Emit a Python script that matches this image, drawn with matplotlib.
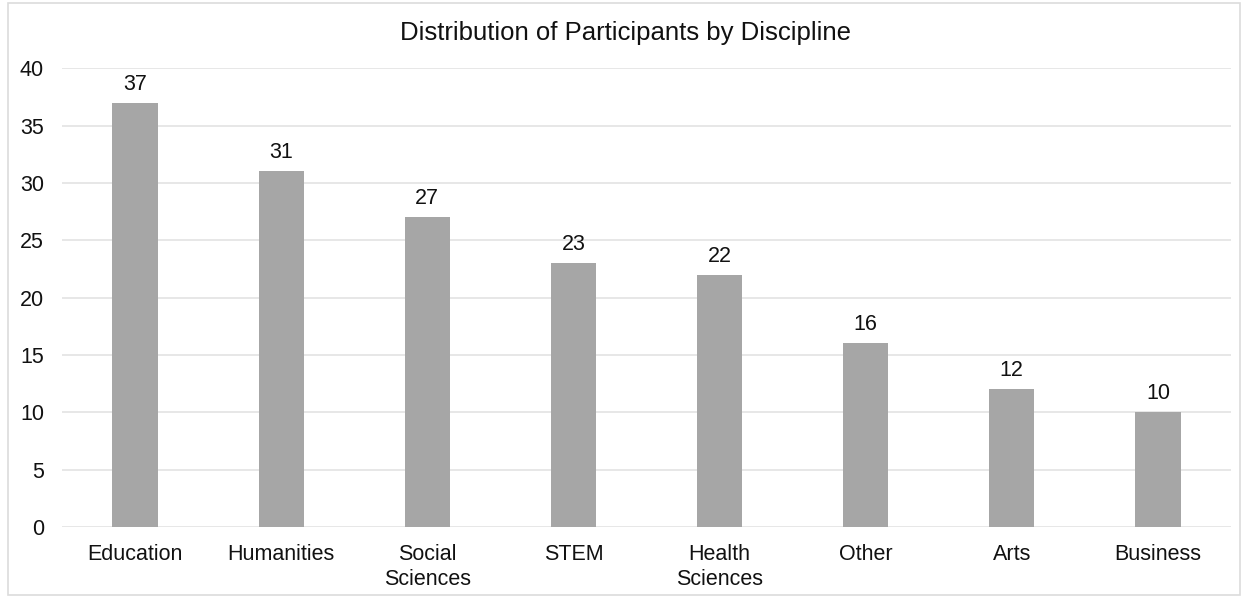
import matplotlib
matplotlib.use('Agg')
import matplotlib.pyplot as plt
import numpy as np

categories = ['Education', 'Humanities', 'Social\nSciences', 'STEM', 'Health\nSciences', 'Other', 'Arts', 'Business']
counts = [37, 31, 27, 23, 22, 16, 12, 10]
y_ticks = [0, 5, 10, 15, 20, 25, 30, 35, 40]

plt.rcParams['font.family'] = ['Liberation Sans', 'DejaVu Sans']

fig = plt.figure(figsize=(12.51, 5.98), dpi=100)
ax = fig.add_axes([0.0496, 0.1187, 0.9344, 0.7673])

x = np.arange(len(categories))
ax.bar(x, counts, width=0.31, color='#a6a6a6', zorder=3)
for xi, v in zip(x, counts):
    ax.text(xi, v + 0.7, str(v), ha='center', va='bottom', fontsize=15.5, color='#111111')

ax.set_xlim(-0.5, len(categories) - 0.5)
ax.set_ylim(0, 40)
ax.set_yticks(y_ticks)
ax.set_xticks(x)
ax.set_xticklabels(categories, fontsize=15.5, linespacing=1.3)
ax.tick_params(axis='y', labelsize=15.5, length=0, pad=13, labelcolor='#111111')
ax.tick_params(axis='x', length=0, pad=12, labelcolor='#111111')
ax.grid(axis='y', color='#e3e3e3', linewidth=1.2, zorder=0)
for s in ax.spines.values():
    s.set_visible(False)

fig.text(0.5, 0.945, 'Distribution of Participants by Discipline', ha='center', va='center', fontsize=18.5, color='#111111')

# light frame round the chart
fig.patches.append(plt.Rectangle((0.006, 0.005), 0.985, 0.99, transform=fig.transFigure,
                                 fill=False, edgecolor='#dcdcdc', linewidth=1.2))

plt.savefig('out.png', dpi=100)
